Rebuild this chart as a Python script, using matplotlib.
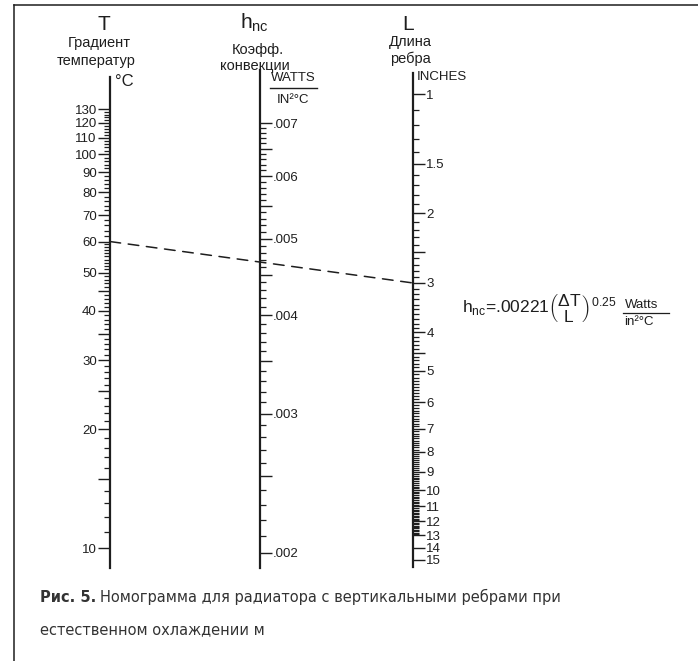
import matplotlib
matplotlib.use('Agg')
import matplotlib.pyplot as plt
from matplotlib.ticker import FixedLocator, FixedFormatter, NullFormatter
from matplotlib.patches import ConnectionPatch
from matplotlib.lines import Line2D

plt.rcParams['font.family'] = ['Liberation Sans', 'DejaVu Sans']
plt.rcParams['mathtext.default'] = 'regular'
plt.rcParams['mathtext.fontset'] = 'custom'
plt.rcParams['mathtext.rm'] = 'Liberation Sans'
plt.rcParams['mathtext.it'] = 'Liberation Sans'

# шкала T - градиент температур, °C
t_major = [10, 20, 30, 40, 50, 60, 70, 80, 90, 100, 110, 120, 130]
t_half = [15, 25, 35, 45]
t_minor = list(range(11, 60)) + list(range(62, 130, 2))

# шкала h_nc - коэффициент конвекции, W/(in^2 °C)
h_major = [0.002, 0.003, 0.004, 0.005, 0.006, 0.007]
h_labels = ['.002', '.003', '.004', '.005', '.006', '.007']
h_half = [0.0025, 0.0035, 0.0045, 0.0055, 0.0065]
h_minor = [k / 10000 for k in range(21, 70)]

# шкала L - длина ребра, дюймы
l_major = [1, 1.5, 2, 3, 4, 5, 6, 7, 8, 9, 10, 11, 12, 13, 14, 15]
l_labels = ['1', '1.5', '2', '3', '4', '5', '6', '7', '8', '9',
            '10', '11', '12', '13', '14', '15']
l_half = [2.5, 4.5]
l_minor = [k / 10 for k in range(11, 130)]

# пример решения (пунктир)
t_example = 60
l_example = 3

W, H = 698, 661
INK = '#1e1e1e'


def fx(x):
    return x / W


def fy(y):
    return 1 - y / H


def clean(values, exclude):
    return [v for v in values if all(abs(v - e) > 1e-9 for e in exclude)]


def make_scale(ax, side, major, labels, half, minor):
    for s in ['top', 'bottom', 'left', 'right']:
        ax.spines[s].set_visible(s == side)
    ax.spines[side].set_linewidth(1.6)
    ax.spines[side].set_color(INK)
    ax.set_xticks([])
    ax.patch.set_alpha(0)
    ax.set_yscale('log')
    ax.yaxis.set_ticks_position(side)
    ax.yaxis.set_label_position(side)
    ax.yaxis.set_major_locator(FixedLocator(list(major) + list(half)))
    ax.yaxis.set_major_formatter(
        FixedFormatter(list(labels) + [''] * len(half)))
    ax.yaxis.set_minor_locator(FixedLocator(clean(minor, list(major) + list(half))))
    ax.yaxis.set_minor_formatter(NullFormatter())
    ax.tick_params(axis='y', which='major', direction='out', length=8.5,
                   width=1.0, color=INK, labelsize=9.5, labelcolor=INK, pad=1)
    ax.tick_params(axis='y', which='minor', direction='out', length=4.5,
                   width=0.9, color=INK)


fig = plt.figure(figsize=(W / 100, H / 100), dpi=100)

# рамка
fig.add_artist(Line2D([fx(14), fx(14)], [fy(5), 0], color=INK, lw=1.1))
fig.add_artist(Line2D([fx(14), 1], [fy(5), fy(5)], color=INK, lw=1.1))

# оси-шкалы
ax_t = fig.add_axes([fx(110), fy(568), 0.05, (568 - 77) / H])
make_scale(ax_t, 'left', t_major, [str(v) for v in t_major], t_half, t_minor)
ax_t.set_ylim(8.9, 157)

ax_h = fig.add_axes([fx(260) - 0.05, fy(568), 0.05, (568 - 70) / H])
make_scale(ax_h, 'right', h_major, h_labels, h_half, h_minor)
ax_h.set_ylim(0.001913, 0.008175)

ax_l = fig.add_axes([fx(413) - 0.05, fy(567), 0.05, (567 - 73) / H])
make_scale(ax_l, 'right', l_major, l_labels, l_half, l_minor)
ax_l.set_ylim(15.64, 0.885)

# пунктир: T=60 -> L=3
con = ConnectionPatch(xyA=(0, t_example), coordsA=ax_t.get_yaxis_transform(),
                      xyB=(1, l_example), coordsB=ax_l.get_yaxis_transform(),
                      color=INK, lw=1.1, linestyle=(0, (7, 5)))
fig.add_artist(con)

# заголовки шкал
fig.text(fx(104), fy(24), 'T', fontsize=15, ha='center', va='center', color=INK)
fig.text(fx(99), fy(43), 'Градиент', fontsize=10.5, ha='center', va='center', color=INK)
fig.text(fx(96), fy(61), 'температур', fontsize=10.5, ha='center', va='center', color=INK)
fig.text(fx(115), fy(82), '°C', fontsize=12, ha='left', va='center', color=INK)

fig.text(fx(254), fy(23), r'$h_{nc}$', fontsize=15, ha='center', va='center', color=INK)
fig.text(fx(258), fy(50), 'Коэфф.', fontsize=10.5, ha='center', va='center', color=INK)
fig.text(fx(255), fy(66), 'конвекции', fontsize=10.5, ha='center', va='center', color=INK)
fig.text(fx(293), fy(78), 'WATTS', fontsize=9.5, ha='center', va='center', color=INK)
fig.add_artist(Line2D([fx(270), fx(317)], [fy(88), fy(88)], color=INK, lw=1.0))
fig.text(fx(293), fy(100), 'IN²°C', fontsize=9.5, ha='center', va='center', color=INK)

fig.text(fx(408), fy(24), 'L', fontsize=15, ha='center', va='center', color=INK)
fig.text(fx(410), fy(42), 'Длина', fontsize=10.5, ha='center', va='center', color=INK)
fig.text(fx(410), fy(59), 'ребра', fontsize=10.5, ha='center', va='center', color=INK)
fig.text(fx(417), fy(77), 'INCHES', fontsize=9.5, ha='left', va='center', color=INK)

# формула
formula = fig.text(fx(462), fy(309),
                   r'$h_{nc}$=.00221$\left(\genfrac{}{}{0}{0}{\Delta T}{L}\right)^{0.25}$',
                   fontsize=12.5, ha='left', va='center', color=INK)
fig.canvas.draw()
fb = formula.get_window_extent()
wx = fb.x1 + 8
fig.text(wx / W, fy(305), 'Watts', fontsize=9.5, ha='left', va='center', color=INK)
fig.add_artist(Line2D([(wx - 1) / W, (wx + 45) / W], [fy(313), fy(313)],
                      color=INK, lw=0.9))
fig.text(wx / W, fy(322), 'in²°C', fontsize=9.5, ha='left', va='center', color=INK)

# подпись
cap_font = ['DejaVu Sans']
cap_b = fig.text(fx(40), fy(597), 'Рис. 5.', fontsize=10.5, fontweight='bold',
                 family=cap_font, ha='left', va='center', color='#333333')
fig.canvas.draw()
bb = cap_b.get_window_extent()
fig.text((bb.x1 + 4) / W, fy(597),
         'Номограмма для радиатора с вертикальными ребрами при',
         fontsize=10.5, family=cap_font, ha='left', va='center', color='#333333')
fig.text(fx(40), fy(630), 'естественном охлаждении м', fontsize=10.5,
         family=cap_font, ha='left', va='center', color='#333333')

fig.savefig('out.png', dpi=100)
